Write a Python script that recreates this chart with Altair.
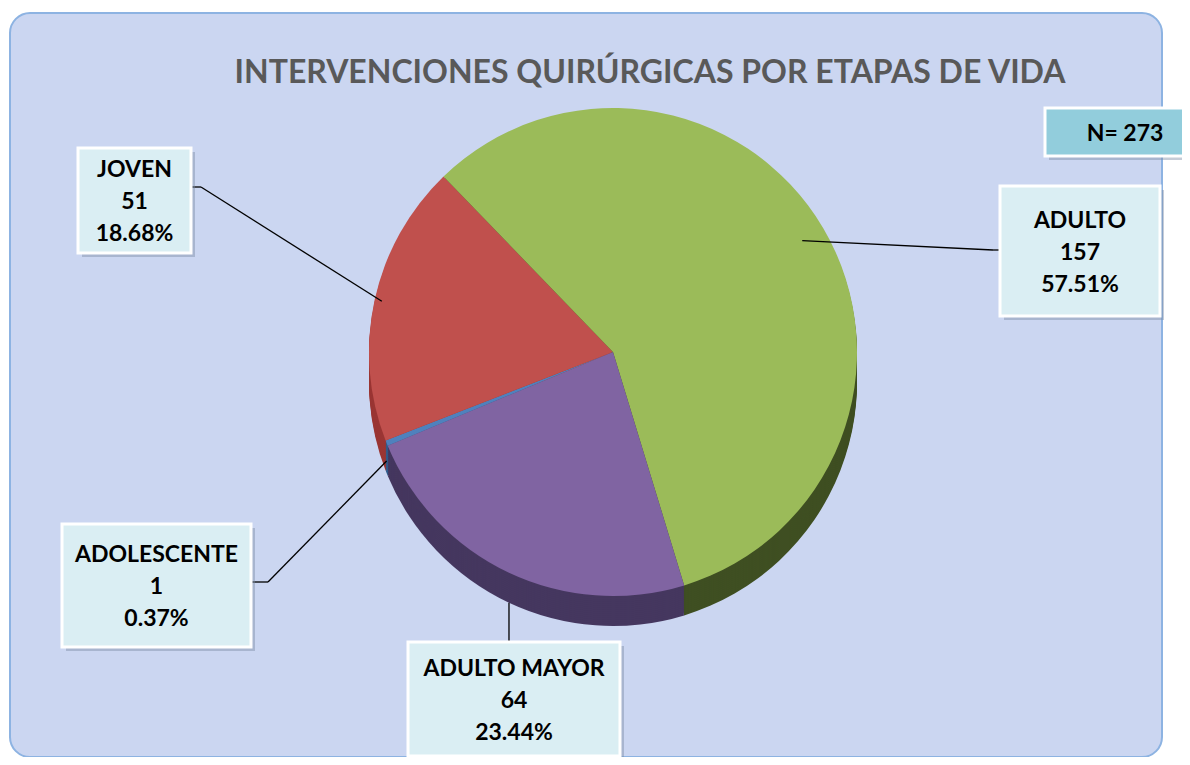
import math
import altair as alt
import pandas as pd

# ---- data ----
categories = ["ADOLESCENTE", "JOVEN", "ADULTO", "ADULTO MAYOR"]
counts = [1, 51, 157, 64]
percents = ["0.37%", "18.68%", "57.51%", "23.44%"]
total_label = "N= 273"
title_text = "INTERVENCIONES QUIRÚRGICAS POR ETAPAS DE VIDA"

top_colors = ["#4F81BD", "#C0504D", "#9BBB59", "#8064A2"]
rim_colors = ["#2F5C8C", "#9A3634", "#3F4F22", "#45375F"]

df = pd.DataFrame({"cat": categories, "rim": categories, "count": counts,
                   "pct": percents, "idx": list(range(len(categories)))})

# ---- layout (page coords -> view coords) ----
OX, OY = 10, 13
def vx(x): return x - OX
def vy(y): return y - OY

CX, CY, R, DEPTH = 613, 352, 244, 30
start = math.radians(247.43)

FONT = "Lato"

base = alt.Chart(df)
theta_scale = alt.Scale(range=[start, start + 2 * math.pi])

def pie(field, colors, dy, **kw):
    return base.mark_arc(radius=R, x=vx(CX), y=vy(CY + dy), **kw).encode(
        theta=alt.Theta("count:Q", stack=True, scale=theta_scale),
        color=alt.Color(f"{field}:N", scale=alt.Scale(domain=categories, range=colors), legend=None),
        order=alt.Order("idx:Q"),
    )

layers = []
# rim (thickness) stacked beneath
for d in range(DEPTH, 0, -2):
    layers.append(pie("rim", rim_colors, d))
layers.append(pie("cat", top_colors, 0))

# title
one = pd.DataFrame({"t": [title_text]})
layers.append(alt.Chart(one).mark_text(font=FONT, fontSize=32, fontWeight="bold",
                                       color="#595959", baseline="alphabetic",
                                       align="center").encode(
    x=alt.value(vx(650)), y=alt.value(vy(83)), text="t:N"))

def box(x0, y0, x1, y1, fill):
    s = alt.Chart(one).mark_rect(color="#7f8fa6", opacity=0.45).encode(
        x=alt.value(vx(x0 + 4)), x2=alt.value(vx(x1 + 4)),
        y=alt.value(vy(y0 + 4)), y2=alt.value(vy(y1 + 4)))
    b = alt.Chart(one).mark_rect(fill=fill, stroke="white", strokeWidth=3).encode(
        x=alt.value(vx(x0)), x2=alt.value(vx(x1)),
        y=alt.value(vy(y0)), y2=alt.value(vy(y1)))
    return [s, b]

# slice mid angles for leader lines
cum = 0
mids = []
for c in counts:
    mids.append(start + 2 * math.pi * (cum + c / 2) / sum(counts))
    cum += c

def edge(i, rr=0.97, dy=0):
    a = mids[i]
    return CX + R * rr * math.sin(a), CY - R * rr * math.cos(a) + dy

def rule(p, q):
    return alt.Chart(one).mark_rule(color="black", strokeWidth=1.3).encode(
        x=alt.value(vx(p[0])), y=alt.value(vy(p[1])),
        x2=alt.value(vx(q[0])), y2=alt.value(vy(q[1])))

boxes = {
    "JOVEN": (78, 148, 191, 253),
    "ADULTO": (1000, 186, 1160, 316),
    "ADOLESCENTE": (62, 524, 251, 647),
    "ADULTO MAYOR": (408, 642, 620, 756),
}

# leader lines
j = categories.index("JOVEN")
layers.append(rule((191, 187), (201, 187)))
layers.append(rule((201, 187), edge(j)))
a = categories.index("ADULTO")
layers.append(rule((1000, 250), (993, 250)))
layers.append(rule((993, 250), edge(a, 0.9)))
s = categories.index("ADOLESCENTE")
layers.append(rule((251, 582), (268, 582)))
layers.append(rule((268, 582), edge(s, 1.0, DEPTH * 0.6)))
m = categories.index("ADULTO MAYOR")
mx, my = edge(m, 1.0, DEPTH)
layers.append(rule((mx, my), (mx, 642)))

for name, (x0, y0, x1, y1) in boxes.items():
    layers += box(x0, y0, x1, y1, "#DAEEF3")
    i = categories.index(name)
    lines = [categories[i], str(counts[i]), percents[i]]
    cxb = (x0 + x1) / 2
    step = 32
    first = (y0 + y1) / 2 - step
    for k, line in enumerate(lines):
        lab = pd.DataFrame({"t": [line]})
        layers.append(alt.Chart(lab).mark_text(font=FONT, fontSize=23, fontWeight="bold",
                                               color="black", baseline="alphabetic",
                                               align="center").encode(
            x=alt.value(vx(cxb)), y=alt.value(vy(first + k * step + 8.5)), text="t:N"))

# N box
layers += box(1045, 108, 1200, 156, "#92CDDC")
nlab = pd.DataFrame({"t": [total_label]})
layers.append(alt.Chart(nlab).mark_text(font=FONT, fontSize=23, fontWeight="bold",
                                        color="black", baseline="alphabetic",
                                        align="center").encode(
    x=alt.value(vx(1125)), y=alt.value(vy(141)), text="t:N"))

chart = alt.layer(*layers).resolve_scale(color="independent").properties(
    width=1174, height=749,
    autosize=alt.AutoSizeParams(type="fit", contains="padding"),
    padding={"left": 2, "top": 5, "right": 0, "bottom": 0},
    background="white",
).configure_view(fill="#CBD6F1", stroke="#8DB3E2", strokeWidth=2, cornerRadius=20)

chart.save("out.html", embed_options={"renderer": "svg", "actions": False})
